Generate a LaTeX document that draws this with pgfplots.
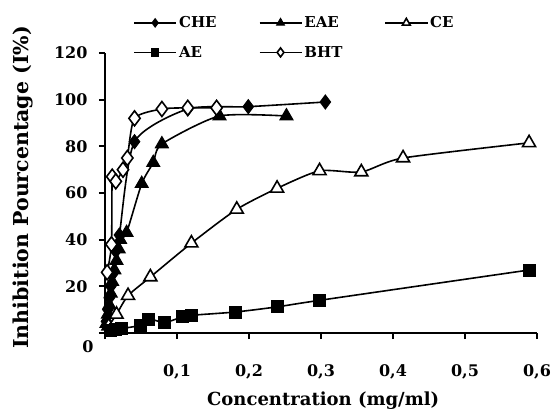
\documentclass[border=0pt]{standalone}
\usepackage{fontspec}
\setmainfont{DejaVu Serif}
\usepackage{pgfplots}
\pgfplotsset{compat=1.18}
\begin{document}
\begin{tikzpicture}
\begin{axis}[
  scale only axis,
  width=432pt, height=280pt,
  xmin=0, xmax=0.6, ymin=0, ymax=120,
  axis lines=left,
  axis line style={line width=2.2pt,-},
  clip=false,
  xtick={0,0.1,0.2,0.3,0.4,0.5,0.6},
  xticklabels={,{0,1},{0,2},{0,3},{0,4},{0,5},{0,6}},
  ytick={0,20,40,60,80,100,120},
  yticklabels={,20,40,60,80,100,120},
  tick align=outside,
  major tick length=6pt,
  tick style={line width=1.8pt,black},
  ticklabel style={font=\fontsize{16}{18}\selectfont\bfseries},
  xticklabel style={yshift=-22pt},
  yticklabel style={xshift=-8pt},
  xlabel={Concentration (mg/ml)},
  ylabel={Inhibition Pourcentage (I\%)},
  every axis x label/.append style={at={(axis description cs:0.505,-0.24)}, anchor=center},
  every axis y label/.append style={at={(axis description cs:-0.19,0.52)}, anchor=center},
  xlabel style={font=\fontsize{18}{20}\selectfont\bfseries},
  ylabel style={font=\fontsize{20.5}{22}\selectfont\bfseries},
  legend columns=3,
  legend cell align=left,
  legend style={draw=none, fill=none, at={(axis description cs:0.065,1.138)}, anchor=north west,
    font=\fontsize{15}{17}\selectfont\bfseries, row sep=13pt, inner sep=0pt,
    /tikz/every even column/.append style={column sep=40pt},
    /tikz/column 4/.append style={column sep=48pt}},
  legend image code/.code={\draw[mark repeat=2,mark phase=2,#1,line width=1.8pt,/tikz/every mark/.append style={scale=0.6}] plot coordinates {(0pt,0pt)(21pt,0pt)(42pt,0pt)};},
  every axis plot/.append style={black, line width=1.6pt, smooth, tension=0.4},
]
% CHE
\addplot[mark=diamond*, mark size=7pt, mark options={fill=black, line width=1pt}] coordinates {
 (0.002,5) (0.004,10) (0.006,15) (0.008,20) (0.010,25) (0.015,35) (0.020,42) (0.041,82) (0.115,96) (0.199,97) (0.306,99)
};
\addlegendentry{CHE}
% EAE
\addplot[mark=triangle*, mark size=7.5pt, mark options={fill=black, line width=1pt}] coordinates {
 (0.002,4) (0.004,8) (0.006,12) (0.008,17) (0.010,22) (0.013,27) (0.016,31) (0.019,36) (0.021,40) (0.030,43) (0.051,64) (0.067,73) (0.079,81) (0.159,93) (0.252,93)
};
\addlegendentry{EAE}
% CE
\addplot[mark=triangle*, mark size=7.5pt, mark options={fill=white, line width=1.6pt}] coordinates {
 (0.005,3) (0.016,8) (0.032,16) (0.063,24) (0.120,38.5) (0.183,53) (0.239,62) (0.298,69.5) (0.356,69) (0.414,75) (0.589,81.5)
};
\addlegendentry{CE}
% AE
\addplot[mark=square*, mark size=6pt, mark options={fill=black, line width=1pt}] coordinates {
 (0.007,1.2) (0.015,1.5) (0.023,1.9) (0.049,3.3) (0.061,6) (0.083,4.5) (0.108,7) (0.120,7.6) (0.181,9) (0.239,11.2) (0.298,14) (0.589,27)
};
\addlegendentry{AE}
% BHT
\addplot[mark=diamond*, mark size=7.5pt, mark options={fill=white, line width=1.6pt}] coordinates {
 (0.003,26) (0.009,38) (0.010,67) (0.015,65) (0.025,70) (0.031,75) (0.041,92) (0.079,96) (0.115,96.5) (0.155,96.5)
};
\addlegendentry{BHT}
\node[font=\fontsize{16}{18}\selectfont\bfseries] at (rel axis cs:0,0) [xshift=-17pt,yshift=-14pt] {0};
\end{axis}
\pgfresetboundingbox
\path (current axis.south west) ++(-105pt,-77pt) rectangle ++(553pt,410pt);
\end{tikzpicture}
\end{document}
